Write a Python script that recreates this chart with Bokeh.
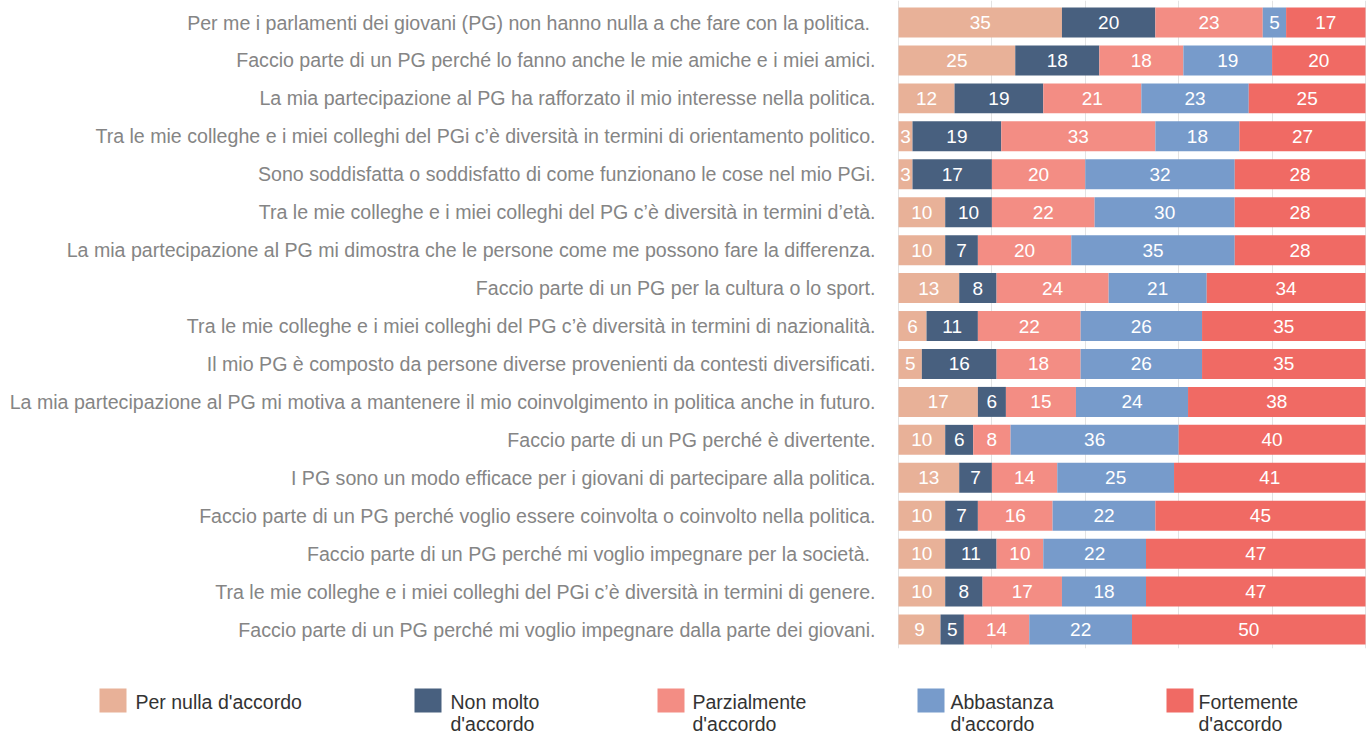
from bokeh.plotting import figure
from bokeh.models import ColumnDataSource, Range1d, FixedTicker
from bokeh.layouts import column
from bokeh.embed import file_html
from bokeh.resources import INLINE
from bokeh.core.properties import value
import numpy as np

statements = [
    "Per me i parlamenti dei giovani  (PG) non hanno nulla a che fare con la politica.",
    "Faccio parte di un PG perché lo fanno anche le mie amiche e i miei amici.",
    "La mia partecipazione al PG ha rafforzato il mio interesse nella politica.",
    "Tra le mie colleghe e i miei colleghi del PGi c’è diversità in termini di orientamento politico.",
    "Sono soddisfatta o soddisfatto di come funzionano le cose nel mio PGi.",
    "Tra le mie colleghe e i miei colleghi del PG c’è diversità in termini d’età.",
    "La mia partecipazione al PG mi dimostra che le persone come me possono fare la differenza.",
    "Faccio parte di un PG per la cultura o lo sport.",
    "Tra le mie colleghe e i miei colleghi del PG c’è diversità in termini di nazionalità.",
    "Il mio PG è composto da persone diverse provenienti da contesti diversificati.",
    "La mia partecipazione al PG mi motiva a mantenere il mio coinvolgimento in politica anche in futuro.",
    "Faccio parte di un PG perché è divertente.",
    "I PG sono un modo efficace per i giovani di partecipare alla politica.",
    "Faccio parte di un PG perché voglio essere coinvolta o coinvolto nella politica.",
    "Faccio parte di un PG  perché mi voglio impegnare per la società.",
    "Tra le mie colleghe e i miei colleghi del PGi c’è diversità in termini di genere.",
    "Faccio parte di un PG perché mi voglio impegnare dalla parte dei giovani.",
]

per_nulla    = [35, 25, 12, 3, 3, 10, 10, 13, 6, 5, 17, 10, 13, 10, 10, 10, 9]
non_molto    = [20, 18, 19, 19, 17, 10, 7, 8, 11, 16, 6, 6, 7, 7, 11, 8, 5]
parzialmente = [23, 18, 21, 33, 20, 22, 20, 24, 22, 18, 15, 8, 14, 16, 10, 17, 14]
abbastanza   = [5, 19, 23, 18, 32, 30, 35, 21, 26, 26, 24, 36, 25, 22, 22, 18, 22]
fortemente   = [17, 20, 25, 27, 28, 28, 28, 34, 35, 35, 38, 40, 41, 45, 47, 47, 50]

legend_labels = ["Per nulla d'accordo", "Non molto\nd'accordo", "Parzialmente\nd'accordo",
                 "Abbastanza\nd'accordo", "Fortemente\nd'accordo"]
grid_ticks = [0, 20, 40, 60, 80, 100]

colors = ["#E8B198", "#48607F", "#F38D84", "#779BCB", "#F06A64"]
keys = ["per_nulla", "non_molto", "parzialmente", "abbastanza", "fortemente"]
series = [per_nulla, non_molto, parzialmente, abbastanza, fortemente]

FONT = "Liberation Sans"
W = 1368
H1 = 650
H2 = 86
left_px = 898
right_px = 3
units_per_px = 100.0 / (W - left_px - right_px)

n = len(statements)
ys = list(range(n))
data = dict(y=ys, label=statements)
for k, s in zip(keys, series):
    data[k] = s
src = ColumnDataSource(data)

row_px = 37.94
first_center = 22.0
frame_bottom = 648.0
top_pad = first_center / row_px
bottom_y = (frame_bottom - first_center) / row_px

p = figure(width=W, height=H1, output_backend="svg", toolbar_location=None,
           x_range=Range1d(-left_px * units_per_px, 100 + right_px * units_per_px),
           y_range=Range1d(bottom_y, -top_pad),
           min_border_left=0, min_border_right=0, min_border_top=0,
           min_border_bottom=int(H1 - frame_bottom))
p.xaxis.visible = False
p.yaxis.visible = False
p.outline_line_color = None
p.ygrid.grid_line_color = None
p.xgrid.ticker = FixedTicker(ticks=grid_ticks)
p.xgrid.grid_line_color = "#E3E3E3"
p.xgrid.grid_line_width = 1

p.hbar_stack(keys, y="y", height=0.79, color=colors, line_color=None, source=src)

arr = np.array(series, dtype=float)
cum = np.cumsum(arr, axis=0)
for i in range(len(keys)):
    centers = cum[i] - arr[i] / 2.0
    p.text(x=list(centers), y=ys, text=[str(v) for v in series[i]],
           text_align="center", text_baseline="middle", text_color="white",
           text_font=value(FONT), text_font_size="19px")

p.text(x=[0] * n, y=ys, text=statements, x_offset=-23, text_align="right",
       text_baseline="middle", text_color="#858585", text_font=value(FONT),
       text_font_size="19.6px")

# legend
leg = figure(width=W, height=H2, output_backend="svg", toolbar_location=None,
             x_range=Range1d(0, W), y_range=Range1d(H2, 0),
             min_border_left=0, min_border_right=0, min_border_top=0, min_border_bottom=0)
leg.axis.visible = False
leg.grid.visible = False
leg.outline_line_color = None

sq_left = [99, 414, 657, 917, 1166]
lbl_left = [135, 450, 692, 950, 1198]
sq_w, sq_h = 27, 24
sq_top = 38
line1 = [l.split("\n")[0] for l in legend_labels]
line2 = [l.split("\n")[1] if "\n" in l else "" for l in legend_labels]
leg.rect(x=[x + sq_w / 2 for x in sq_left], y=[sq_top + sq_h / 2] * 5, width=sq_w, height=sq_h,
         color=colors, line_color=None)
leg.text(x=lbl_left, y=[sq_top + 13] * 5, text=line1, text_align="left", text_baseline="middle",
         text_color="#333333", text_font=value(FONT), text_font_size="19.5px")
leg.text(x=lbl_left, y=[sq_top + 35] * 5, text=line2, text_align="left", text_baseline="middle",
         text_color="#333333", text_font=value(FONT), text_font_size="19.5px")

layout = column(p, leg, spacing=0)
open("out.html", "w").write(file_html(layout, INLINE))
